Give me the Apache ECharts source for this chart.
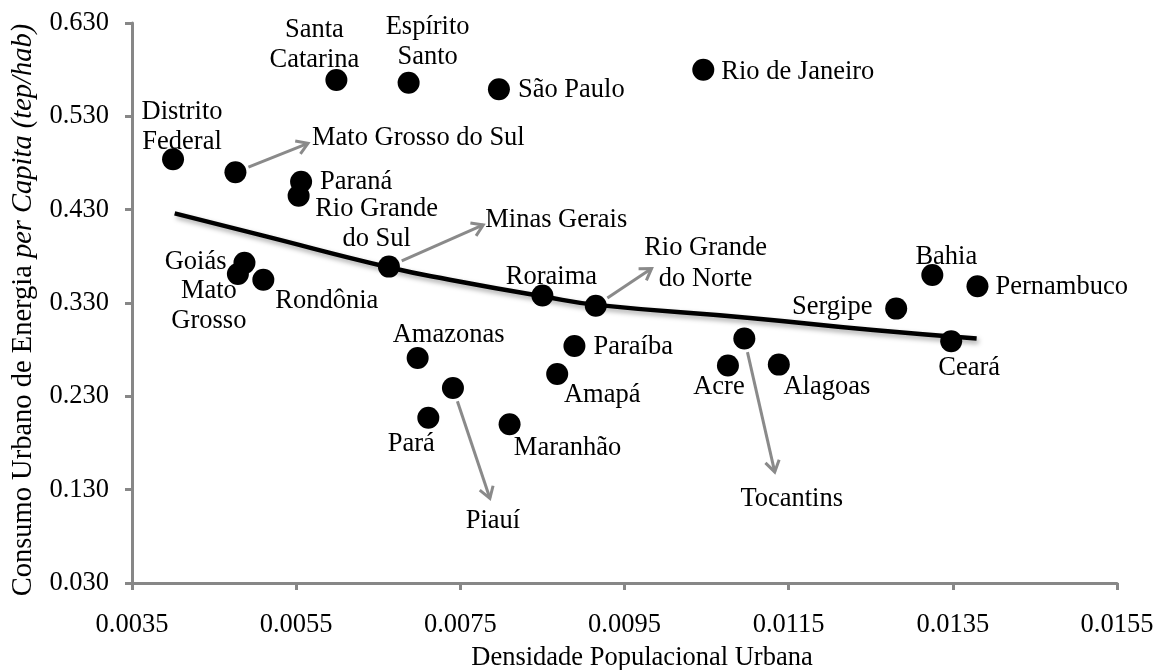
<!DOCTYPE html>
<html>
<head>
<meta charset="utf-8">
<script src="https://cdn.jsdelivr.net/npm/echarts@6/dist/echarts.min.js"></script>
<style>
  html, body { margin: 0; padding: 0; background: #fff; }
  #chart { width: 1155px; height: 670px; }
</style>
</head>
<body>
<div id="chart"></div>
<script>
// Urban population density vs. per-capita urban energy consumption, by Brazilian state
const states = ['Distrito Federal', 'Mato Grosso do Sul', 'Paraná', 'Rio Grande do Sul', 'Santa Catarina',
  'Goiás', 'Mato Grosso', 'Rondônia', 'Minas Gerais', 'Espírito Santo', 'São Paulo', 'Rio de Janeiro',
  'Roraima', 'Rio Grande do Norte', 'Paraíba', 'Amapá', 'Amazonas', 'Piauí', 'Pará', 'Maranhão',
  'Tocantins', 'Acre', 'Alagoas', 'Sergipe', 'Ceará', 'Bahia', 'Pernambuco'];
const density = [0.00400, 0.00476, 0.00556, 0.00553, 0.00599,
  0.00487, 0.00479, 0.00510, 0.00663, 0.00687, 0.00797, 0.01046,
  0.00850, 0.00915, 0.00889, 0.00868, 0.00698, 0.00741, 0.00711, 0.00810,
  0.01096, 0.01076, 0.01138, 0.01281, 0.01348, 0.01325, 0.01380];
const consumption = [0.484, 0.470, 0.460, 0.445, 0.569,
  0.373, 0.361, 0.355, 0.369, 0.566, 0.559, 0.580,
  0.338, 0.327, 0.284, 0.254, 0.271, 0.239, 0.207, 0.200,
  0.292, 0.263, 0.264, 0.324, 0.289, 0.360, 0.348];

// Trend curve
const trendX = [0.00402, 0.00506, 0.00664, 0.00737, 0.00851, 0.00916, 0.01103, 0.01253, 0.01379];
const trendY = [0.426, 0.403, 0.368, 0.355, 0.337, 0.328, 0.314, 0.301, 0.292];

// Axis tick labels
const xTicks = ['0.0035', '0.0055', '0.0075', '0.0095', '0.0115', '0.0135', '0.0155'];
const yTicks = ['0.030', '0.130', '0.230', '0.330', '0.430', '0.530', '0.630'];

// Label placement (pixel offsets from the marker centre)
const labelLayout = {
  'Distrito Federal':  { text: 'Distrito\nFederal', dx: 9, dy: -32, align: 'center' },
  'Paraná':            { dx: 19, dy: 0, align: 'left' },
  'Rio Grande do Sul': { text: 'Rio Grande\ndo Sul', dx: 78, dy: 28, align: 'center' },
  'Santa Catarina':    { text: 'Santa\nCatarina', dx: -22, dy: -35, align: 'center' },
  'Goiás':             { dx: -18, dy: -1, align: 'right' },
  'Mato Grosso':       { text: 'Mato\nGrosso', dx: -29, dy: 32, align: 'center' },
  'Rondônia':          { dx: 12, dy: 21, align: 'left' },
  'Espírito Santo':    { text: 'Espírito\nSanto', dx: 19, dy: -41, align: 'center' },
  'São Paulo':         { dx: 19, dy: 1, align: 'left' },
  'Rio de Janeiro':    { dx: 18, dy: 2, align: 'left' },
  'Roraima':           { dx: 9, dy: -18, align: 'center' },
  'Paraíba':           { dx: 19, dy: 1, align: 'left' },
  'Amapá':             { dx: 45, dy: 21, align: 'center' },
  'Amazonas':          { dx: 31, dy: -23, align: 'center' },
  'Pará':              { dx: -17, dy: 26, align: 'center' },
  'Maranhão':          { dx: 58, dy: 24, align: 'center' },
  'Acre':              { dx: -9, dy: 22, align: 'center' },
  'Alagoas':           { dx: 48, dy: 22, align: 'center' },
  'Sergipe':           { dx: -64, dy: -2, align: 'center' },
  'Ceará':             { dx: 18, dy: 27, align: 'center' },
  'Bahia':             { dx: 14, dy: -18, align: 'center' },
  'Pernambuco':        { dx: 18, dy: 1, align: 'left' }
};

// Call-out arrows: tip position in data units, label offset from the tip in pixels
const arrowLayout = {
  'Mato Grosso do Sul':  { tip: [0.005644, 0.501], text: 'Mato Grosso do Sul', dx: 4, dy: -5, align: 'left' },
  'Minas Gerais':        { tip: [0.007779, 0.4136], text: 'Minas Gerais', dx: 2, dy: -5, align: 'left' },
  'Rio Grande do Norte': { tip: [0.00983, 0.367], text: 'Rio Grande\ndo Norte', dx: 54, dy: -5, align: 'center' },
  'Piauí':               { tip: [0.00786, 0.1207], text: 'Piauí', dx: 3, dy: 23, align: 'center' },
  'Tocantins':           { tip: [0.01133, 0.149], text: 'Tocantins', dx: 17, dy: 27, align: 'center' }
};

const FONT = 'Liberation Serif, Times New Roman, serif';
const FS = 26.5;
const FS_YNAME = 28.5;
const AXIS_GRAY = '#878787';
const ARROW_GRAY = '#8a8a8a';

const points = states.map((name, i) => {
  const lay = labelLayout[name];
  const item = { name: name, value: [density[i], consumption[i]] };
  if (lay) {
    item.label = {
      show: true,
      position: 'inside',
      formatter: lay.text || name,
      offset: [lay.dx, lay.dy],
      align: lay.align,
      verticalAlign: 'middle',
      fontFamily: FONT, fontSize: FS, color: '#000', lineHeight: 30
    };
  } else {
    item.label = { show: false };
  }
  return item;
});

const arrows = Object.keys(arrowLayout).map(name => {
  const i = states.indexOf(name);
  const a = arrowLayout[name];
  return { name: name, value: [density[i], consumption[i], a.tip[0], a.tip[1]] };
});

const trend = trendX.map((x, i) => [x, trendY[i]]);

const chart = echarts.init(document.getElementById('chart'), null, { renderer: 'canvas' });

chart.setOption({
  animation: false,
  backgroundColor: '#ffffff',
  textStyle: { fontFamily: FONT },
  grid: { left: 132, right: 38, top: 23, bottom: 87, containLabel: false, outerBoundsMode: 'none' },
  xAxis: {
    type: 'value',
    min: 0.0035, max: 0.0155, interval: 0.002,
    name: 'Densidade Populacional Urbana',
    nameLocation: 'middle',
    nameGap: 62,
    nameTextStyle: { fontFamily: FONT, fontSize: FS, color: '#000', padding: [0, 0, 0, 35] },
    axisLine: { show: true, onZero: false, lineStyle: { color: AXIS_GRAY, width: 3 } },
    axisTick: { show: true, length: 7, lineStyle: { color: AXIS_GRAY, width: 3 } },
    splitLine: { show: false },
    axisLabel: {
      margin: 29, fontFamily: FONT, fontSize: FS, color: '#000',
      formatter: v => xTicks[Math.round((v - 0.0035) / 0.002)] || ''
    }
  },
  yAxis: {
    type: 'value',
    min: 0.03, max: 0.63, interval: 0.1,
    name: '{n|Consumo Urbano de Energia }{i|per Capita (tep/hab)}',
    nameLocation: 'middle',
    nameRotate: 90,
    nameGap: 93,
    nameTextStyle: {
      padding: [0, 14, 0, 0],
      rich: {
        n: { fontFamily: FONT, fontSize: FS_YNAME, color: '#000' },
        i: { fontFamily: FONT, fontSize: FS_YNAME, color: '#000', fontStyle: 'italic' }
      }
    },
    axisLine: { show: true, onZero: false, lineStyle: { color: AXIS_GRAY, width: 3 } },
    axisTick: { show: true, length: 7, lineStyle: { color: AXIS_GRAY, width: 3 } },
    splitLine: { show: false },
    axisLabel: {
      margin: 23, fontFamily: FONT, fontSize: FS, color: '#000',
      formatter: v => yTicks[Math.round((v - 0.03) / 0.1)] || ''
    }
  },
  series: [
    {
      type: 'line',
      data: trend,
      smooth: true,
      showSymbol: false,
      silent: true,
      z: 2,
      lineStyle: {
        color: '#000', width: 4.5,
        shadowColor: 'rgba(0,0,0,0.35)', shadowBlur: 5, shadowOffsetX: 2, shadowOffsetY: 3
      }
    },
    {
      type: 'custom',
      z: 3,
      silent: true,
      encode: { x: [0, 2], y: [1, 3] },
      data: arrows,
      renderItem: function (params, api) {
        const name = arrows[params.dataIndex].name;
        const lay = arrowLayout[name];
        const a = api.coord([api.value(0), api.value(1)]);
        const b = api.coord([api.value(2), api.value(3)]);
        const dx = b[0] - a[0], dy = b[1] - a[1];
        const len = Math.sqrt(dx * dx + dy * dy);
        const ux = dx / len, uy = dy / len;
        const start = [a[0] + ux * 14, a[1] + uy * 14];
        const hl = 13, ang = Math.PI / 5.5;
        const rot = (t) => [
          b[0] - hl * (ux * Math.cos(t) - uy * Math.sin(t)),
          b[1] - hl * (ux * Math.sin(t) + uy * Math.cos(t))
        ];
        return {
          type: 'group',
          children: [
            { type: 'polyline', shape: { points: [start, b] },
              style: { stroke: ARROW_GRAY, lineWidth: 3, fill: null } },
            { type: 'polyline', shape: { points: [rot(ang), b, rot(-ang)] },
              style: { stroke: ARROW_GRAY, lineWidth: 3, fill: null, lineJoin: 'miter' } },
            { type: 'text',
              style: {
                text: lay.text, x: b[0] + lay.dx, y: b[1] + lay.dy,
                align: lay.align, verticalAlign: 'middle',
                fontFamily: FONT, fontSize: FS, fill: '#000', lineHeight: 31
              } }
          ]
        };
      }
    },
    {
      type: 'scatter',
      z: 4,
      data: points,
      symbol: 'circle',
      symbolSize: 22,
      itemStyle: { color: '#000', opacity: 1 },
      label: {
        fontFamily: FONT, fontSize: FS, color: '#000', lineHeight: 30
      }
    }
  ]
});
</script>
</body>
</html>
